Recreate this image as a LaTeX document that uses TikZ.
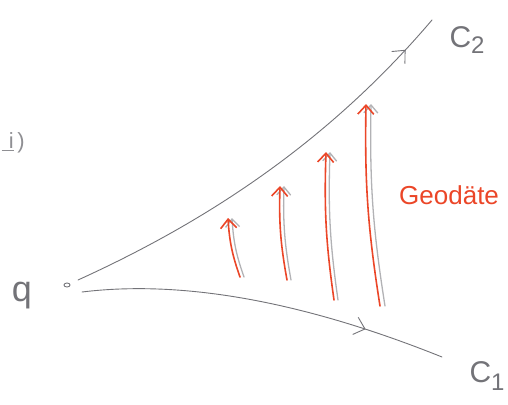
\documentclass[tikz,border=0pt]{standalone}
\usepackage{fontspec}
\setmainfont{Liberation Sans}
\usetikzlibrary{arrows.meta,decorations.markings,shapes.geometric}
\definecolor{pencil}{RGB}{115,115,120}
\definecolor{redink}{RGB}{235,70,40}
\tikzset{
  pencilline/.style={draw=pencil, line width=0.9pt, line cap=round},
  shadow/.style={draw=pencil!55, line width=1.3pt, line cap=round, -{Straight Barb[length=8pt,width=14pt]}},
  geod/.style={draw=redink, line width=1.6pt, line cap=round, -{Straight Barb[length=9pt,width=16pt]}},
  midarrow/.style={postaction={decorate}, decoration={markings, mark=at position #1 with {\arrow{Straight Barb[length=10pt,width=18pt]}}}},
  lbl/.style={text=pencil, font=\fontsize{30}{30}\selectfont},
}
\begin{document}
\begin{tikzpicture}[x=1pt,y=-1pt]
\useasboundingbox (0,0) rectangle (508,404);
% point p
\node[draw=pencil, ellipse, line width=0.9pt, inner sep=0pt, minimum width=6pt, minimum height=4pt] (p) at (67,285) {};
\coordinate (c2s) at (78,280);
\coordinate (c2e) at (432,20);
\coordinate (c1s) at (82,292);
\coordinate (c1e) at (442,357);
\draw[pencilline, midarrow=0.91] (c2s) .. controls (210,220) and (330,140) .. (c2e);
\draw[pencilline, midarrow=0.78] (c1s) .. controls (180,280) and (300,300) .. (c1e);
% labels
\node[lbl] (q) at (22,296) {\fontsize{36}{36}\selectfont q};
\node[lbl, anchor=west] (C2) at (446,40) {C\raisebox{-6pt}{\fontsize{24}{24}\selectfont 2}};
\node[lbl, anchor=west] (C1) at (466,376) {C\raisebox{-8pt}{\fontsize{24}{24}\selectfont 1}};
\node[text=pencil!80, font=\fontsize{22}{22}\selectfont, anchor=west] (i) at (-2,143) {\underline{\,\,i}\,)};
% geodesics: pencil shadows then red ink
\coordinate (a1s) at (240,277); \coordinate (a1e) at (228,218);
\coordinate (a2s) at (287,280); \coordinate (a2e) at (280,186);
\coordinate (a3s) at (334,300); \coordinate (a3e) at (326,152);
\coordinate (a4s) at (380,306); \coordinate (a4e) at (366,104);
\draw[shadow] ([xshift=4pt]a1s) to[bend left=8] ([xshift=4pt]a1e);
\draw[shadow] ([xshift=4pt]a2s) to[bend left=6] ([xshift=4pt]a2e);
\draw[shadow] ([xshift=4pt]a3s) to[bend left=5] ([xshift=4pt]a3e);
\draw[shadow] ([xshift=5pt]a4s) to[bend left=5] ([xshift=5pt]a4e);
\draw[geod] (a1s) to[bend left=8] (a1e);
\draw[geod] (a2s) to[bend left=6] (a2e);
\draw[geod] (a3s) to[bend left=5] (a3e);
\draw[geod] (a4s) to[bend left=5] (a4e);
\node[text=redink, font=\fontsize{26}{26}\selectfont, anchor=west, inner sep=1pt] (G) at (398,195) {Geodäte};
\end{tikzpicture}
\end{document}
